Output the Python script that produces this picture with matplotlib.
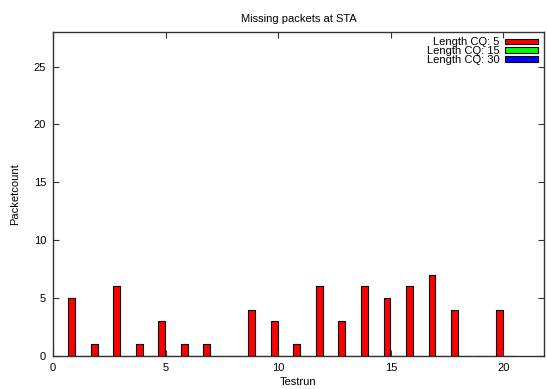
import numpy as np
import matplotlib.pyplot as plt
from matplotlib.patches import Rectangle

plt.rcParams['font.family'] = ['Liberation Sans', 'DejaVu Sans']

testrun = np.arange(1, 21)
cq5 = [5, 1, 6, 1, 3, 1, 1, 0, 4, 3, 1, 6, 3, 6, 5, 6, 7, 4, 0, 4]
cq15 = [0] * 20
cq30 = [0] * 20
labels = ['Length CQ: 5', 'Length CQ: 15', 'Length CQ: 30']
colors = ['#ff0000', '#00ff00', '#0000ff']

fig = plt.figure(figsize=(5.47, 3.89), dpi=100)
ax = fig.add_axes([0.097, 0.085, 0.8975, 0.833])

w = 0.3
for k, (vals, c) in enumerate(zip([cq5, cq15, cq30], colors)):
    ax.bar(testrun - 0.175 + k * w, vals, width=w, color=c,
           edgecolor='black', linewidth=0.8)

ax.set_xlim(0, 21.8)
ax.set_ylim(0, 28)
ax.set_xticks([0, 5, 10, 15, 20])
ax.set_yticks([0, 5, 10, 15, 20, 25])
ax.tick_params(direction='in', top=True, right=True, labelsize=8, length=4,
               width=0.8, color='#333333', pad=5)
for s in ax.spines.values():
    s.set_linewidth(1.0)
    s.set_color('#333333')

ax.set_title('Missing packets at STA', fontsize=8, pad=7)
ax.set_xlabel('Testrun', fontsize=8, labelpad=3)
ax.set_ylabel('Packetcount', fontsize=8, labelpad=10)

handles = [Rectangle((0, 0), 1, 1, facecolor=c, edgecolor='black', linewidth=0.8)
           for c in colors]
ax.legend(handles, labels, loc='upper right', frameon=False, markerfirst=False,
          fontsize=8, handlelength=3.0, handleheight=0.45, labelspacing=-0.1,
          handletextpad=0.5, borderaxespad=0.3, borderpad=0.2,
          bbox_to_anchor=(1.0, 1.0))

fig.savefig('out.png', dpi=100)
